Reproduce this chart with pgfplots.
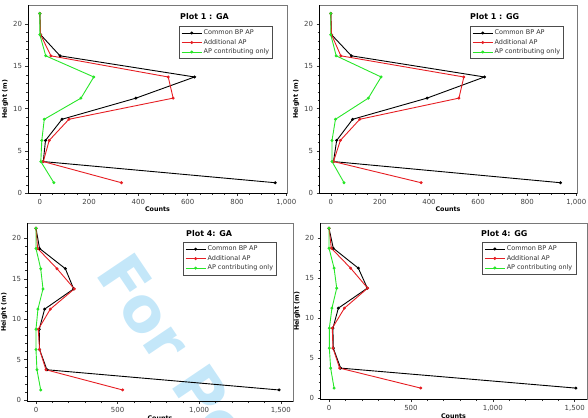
\documentclass[border=0pt]{standalone}
\usepackage{fontspec}
\setmainfont{DejaVu Sans}
\usepackage{pgfplots}
\pgfplotsset{compat=1.18}

\definecolor{cred}{RGB}{230,30,35}
\definecolor{cgreen}{RGB}{40,230,40}
\definecolor{wm}{RGB}{196,231,249}
\definecolor{framec}{RGB}{120,120,120}

\pgfplotsset{
  myaxis/.style={
    scale only axis,
    anchor=south west,
    clip=false,
    axis line style={framec, line width=0.7bp},
    tick pos=left, tick align=outside,
    major tick length=2.5bp, minor tick length=1.5bp,
    every tick/.style={black!80, line width=0.5bp},
    ticklabel style={font=\fontsize{7}{8}\selectfont, text=black!75},
    /pgf/number format/assume math mode=true,
    /pgf/number format/1000 sep={,},
    ytick={0,5,10,15,20}, minor y tick num=4,
    xlabel={Counts}, ylabel={Height (m)},
    label style={font=\bfseries\fontsize{6.4}{7}\selectfont},
    xlabel style={yshift=5bp},
    ylabel style={yshift=-2bp},
    legend cell align=left,
    legend style={anchor=north west, draw=black!70, line width=0.6bp,
      font=\fontsize{6.5}{7}\selectfont, text=black!80, inner sep=2bp,
      row sep=0pt, nodes={inner sep=1.5bp, text height=5bp, text depth=1.5bp}},
    legend image code/.code={\draw[mark repeat=2,mark phase=2,##1] plot coordinates {(0bp,0bp) (10bp,0bp) (20bp,0bp)};},
    after end axis/.code={\draw[black, line width=0.8bp] (rel axis cs:0,1) -- (rel axis cs:0,0) -- (rel axis cs:1,0);},
  },
  toprow/.style={xmin=-48, xmax=1003, ymin=0, ymax=22.2,
    xtick={0,200,400,600,800,1000}, minor x tick num=3},
  botrow/.style={xmin=-55, xmax=1575, ymin=-0.2, ymax=21.9,
    xtick={0,500,1000,1500}, minor x tick num=4},
  sA/.style={black, line width=0.9bp, mark=*, mark size=1bp},
  sB/.style={cred, line width=0.9bp, mark=*, mark size=1bp, mark options={fill=cred}},
  sC/.style={cgreen, line width=0.9bp, mark=*, mark size=1bp, mark options={fill=cgreen}},
}

\begin{document}
\begin{tikzpicture}
\path[use as bounding box] (0bp,0bp) rectangle (588bp,418bp);

\begin{scope}
\clip (0bp,0bp) rectangle (588bp,418bp);
\node[rotate=-56, anchor=base west, text=wm, font=\bfseries\fontsize{62}{62}\selectfont, inner sep=0pt] at (94bp,145bp) {For Pe};
\end{scope}

% Top-left: Plot 1 : GA
\begin{axis}[myaxis, toprow, at={(28bp,224.7bp)}, width=259bp, height=187.8bp,
  legend style={at={(0.583,0.891)}}]
\addplot[sA] coordinates {(955,1.25)(14,3.75)(23,6.25)(90,8.75)(390,11.25)(628,13.75)(82,16.25)(3,18.75)(0,21.25)};
\addplot[sB] coordinates {(331,1.25)(14,3.75)(38,6.25)(118,8.75)(541,11.25)(521,13.75)(45,16.25)(3,18.75)(0,21.25)};
\addplot[sC] coordinates {(57,1.25)(4,3.75)(8,6.25)(18,8.75)(167,11.25)(219,13.75)(24,16.25)(0,18.75)(0,21.25)};
\legend{Common BP AP, Additional AP, AP contributing only}
\end{axis}
\node[anchor=base west, font=\bfseries\fontsize{8}{9}\selectfont, inner sep=0pt] at (180bp,398bp) {Plot 1 : GA};

% Top-right: Plot 1 : GG
\begin{axis}[myaxis, toprow, at={(319bp,224.7bp)}, width=258bp, height=187.8bp,
  legend style={at={(0.585,0.891)}}]
\addplot[sA] coordinates {(936,1.25)(11,3.75)(24,6.25)(89,8.75)(392,11.25)(626,13.75)(84,16.25)(3,18.75)(0,21.25)};
\addplot[sB] coordinates {(368,1.25)(11,3.75)(39,6.25)(118,8.75)(522,11.25)(542,13.75)(41,16.25)(3,18.75)(0,21.25)};
\addplot[sC] coordinates {(54,1.25)(5,3.75)(5,6.25)(19,8.75)(153,11.25)(205,13.75)(22,16.25)(0,18.75)(0,21.25)};
\legend{Common BP AP, Additional AP, AP contributing only}
\end{axis}
\node[anchor=base west, font=\bfseries\fontsize{8}{9}\selectfont, inner sep=0pt] at (470bp,398.5bp) {Plot 1 : GG};

% Bottom-left: Plot 4: GA
\begin{axis}[myaxis, botrow, at={(27bp,16.3bp)}, width=266bp, height=178.7bp,
  legend style={at={(0.586,0.893)}}]
\addplot[sA] coordinates {(1490,1.25)(67,3.75)(22,6.25)(20,8.75)(53,11.25)(231,13.75)(180,16.25)(22,18.75)(0,21.25)};
\addplot[sB] coordinates {(531,1.25)(61,3.75)(22,6.25)(14,8.75)(88,11.25)(235,13.75)(129,16.25)(10,18.75)(0,21.25)};
\addplot[sC] coordinates {(29,1.25)(6,3.75)(0,6.25)(0,8.75)(12,11.25)(43,13.75)(29,16.25)(0,18.75)(0,21.25)};
\legend{Common BP AP, Additional AP, AP contributing only}
\end{axis}
\node[anchor=base west, font=\bfseries\fontsize{8}{9}\selectfont, inner sep=0pt] at (186bp,181.7bp) {Plot 4: GA};

% Bottom-right: Plot 4: GG
\begin{axis}[myaxis, botrow, at={(320bp,18.3bp)}, width=267bp, height=176.7bp,
  legend style={at={(0.607,0.893)}}]
\addplot[sA] coordinates {(1507,1.25)(71,3.75)(26,6.25)(24,8.75)(57,11.25)(234,13.75)(179,16.25)(26,18.75)(0,21.25)};
\addplot[sB] coordinates {(560,1.25)(65,3.75)(24,6.25)(20,8.75)(94,11.25)(236,13.75)(132,16.25)(14,18.75)(0,21.25)};
\addplot[sC] coordinates {(31,1.25)(10,3.75)(2,6.25)(2,8.75)(18,11.25)(47,13.75)(31,16.25)(0,18.75)(0,21.25)};
\legend{Common BP AP, Additional AP, AP contributing only}
\end{axis}
\node[anchor=base west, font=\bfseries\fontsize{8}{9}\selectfont, inner sep=0pt] at (481bp,181.7bp) {Plot 4: GG};
\end{tikzpicture}
\end{document}
